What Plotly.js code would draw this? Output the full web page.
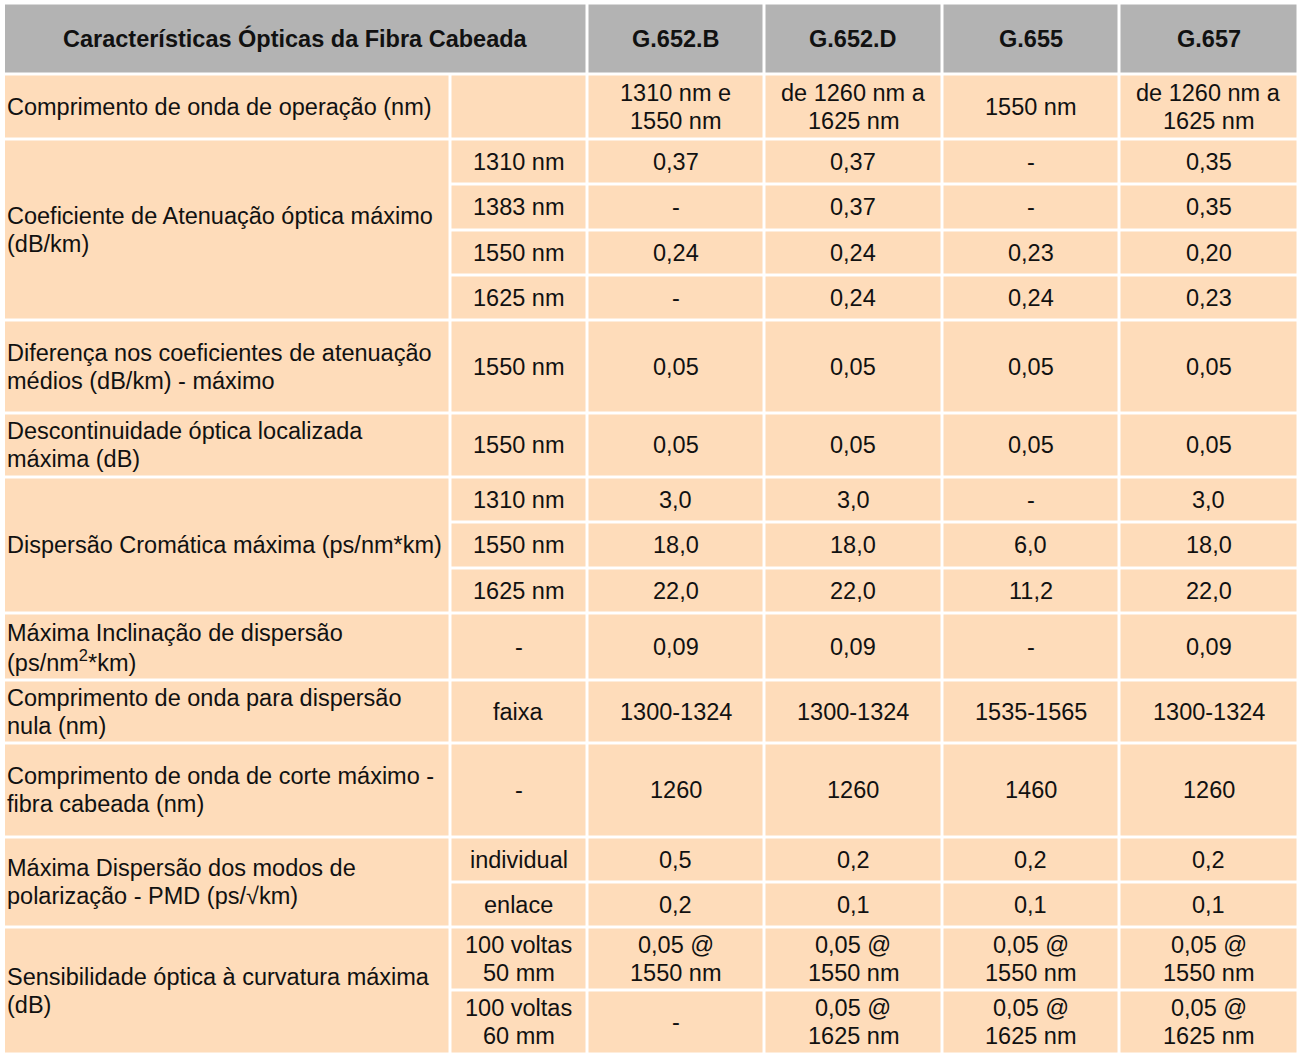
<!DOCTYPE html>
<html>
<head>
<meta charset="utf-8">
<script src="https://cdn.plot.ly/plotly-3.0.1.min.js"></script>
<style>
  html, body { margin: 0; padding: 0; background: #ffffff; }
  #tabela { width: 1300px; height: 1055px; }
</style>
</head>
<body>
<div id="tabela"></div>
<script>
// Table content
const cabecalho = ['Características Ópticas da Fibra Cabeada', 'G.652.B', 'G.652.D', 'G.655', 'G.657'];

const parametros = [
    'Comprimento de onda de operação (nm)',
    'Coeficiente de Atenuação óptica máximo<br>(dB/km)',
    'Diferença nos coeficientes de atenuação<br>médios (dB/km) - máximo',
    'Descontinuidade óptica localizada<br>máxima (dB)',
    'Dispersão Cromática máxima (ps/nm*km)',
    'Máxima Inclinação de dispersão<br>(ps/nm<sup>2</sup>*km)',
    'Comprimento de onda para dispersão<br>nula (nm)',
    'Comprimento de onda de corte máximo -<br>fibra cabeada (nm)',
    'Máxima Dispersão dos modos de<br>polarização - PMD (ps/√km)',
    'Sensibilidade óptica à curvatura máxima<br>(dB)'
];

const condicoes = [
    [''],
    ['1310 nm', '1383 nm', '1550 nm', '1625 nm'],
    ['1550 nm'],
    ['1550 nm'],
    ['1310 nm', '1550 nm', '1625 nm'],
    ['-'],
    ['faixa'],
    ['-'],
    ['individual', 'enlace'],
    ['100 voltas<br>50 mm', '100 voltas<br>60 mm']
];

const g652b = ['1310 nm e<br>1550 nm', '0,37', '-', '0,24', '-', '0,05', '0,05', '3,0', '18,0', '22,0',
    '0,09', '1300-1324', '1260', '0,5', '0,2', '0,05 @<br>1550 nm', '-'];
const g652d = ['de 1260 nm a<br>1625 nm', '0,37', '0,37', '0,24', '0,24', '0,05', '0,05', '3,0', '18,0', '22,0',
    '0,09', '1300-1324', '1260', '0,2', '0,1', '0,05 @<br>1550 nm', '0,05 @<br>1625 nm'];
const g655 = ['1550 nm', '-', '-', '0,23', '0,24', '0,05', '0,05', '-', '6,0', '11,2',
    '-', '1535-1565', '1460', '0,2', '0,1', '0,05 @<br>1550 nm', '0,05 @<br>1625 nm'];
const g657 = ['de 1260 nm a<br>1625 nm', '0,35', '0,35', '0,20', '0,23', '0,05', '0,05', '3,0', '18,0', '22,0',
    '0,09', '1300-1324', '1260', '0,2', '0,1', '0,05 @<br>1550 nm', '0,05 @<br>1625 nm'];

// Geometry (pixels) - column edges and row heights
const colEdges = [3.5, 450, 587, 764, 942, 1119, 1298];
const headerTop = 3;
const headerHeight = 71;
const rowHeights = [65, 45, 46, 45, 45, 93, 64, 45, 46, 45, 67, 63, 94, 45, 45, 63, 64];
const gap = 1.5;
const lineStep = 28;

const corCabecalho = '#b3b3b3';
const corCelula = '#fedcba';
const fonte = '"Liberation Sans", Arial, sans-serif';

const shapes = [];
const annotations = [];

function cell(x0, x1, y0, y1, color) {
    shapes.push({
        type: 'rect', xref: 'x', yref: 'y',
        x0: x0 + gap, x1: x1 - gap, y0: y0 + gap, y1: y1 - gap,
        fillcolor: color, line: {width: 0}, layer: 'below'
    });
}

function label(text, x, yc, align, bold) {
    if (!text) return;
    const lines = text.split('<br>');
    lines.forEach((ln, i) => {
        annotations.push({
            xref: 'x', yref: 'y',
            x: x, y: yc + (i - (lines.length - 1) / 2) * lineStep,
            text: bold ? '<b>' + ln + '</b>' : ln,
            showarrow: false,
            xanchor: align, yanchor: 'middle',
            font: {family: fonte, size: 23.5, color: '#111111'}
        });
    });
}

// Header
const hTop = headerTop, hBot = headerTop + headerHeight;
cell(colEdges[0], colEdges[2], hTop, hBot, corCabecalho);
label(cabecalho[0], (colEdges[0] + colEdges[2]) / 2, (hTop + hBot) / 2, 'center', true);
for (let c = 1; c < cabecalho.length; c++) {
    cell(colEdges[c + 1], colEdges[c + 2], hTop, hBot, corCabecalho);
    label(cabecalho[c], (colEdges[c + 1] + colEdges[c + 2]) / 2, (hTop + hBot) / 2, 'center', true);
}

// Body
const series = [g652b, g652d, g655, g657];
let y = hBot;
let k = 0;
parametros.forEach((p, g) => {
    const gTop = y;
    condicoes[g].forEach(cond => {
        const h = rowHeights[k];
        const yc = y + h / 2;
        cell(colEdges[1], colEdges[2], y, y + h, corCelula);
        label(cond, (colEdges[1] + colEdges[2]) / 2, yc, 'center', false);
        series.forEach((s, j) => {
            cell(colEdges[j + 2], colEdges[j + 3], y, y + h, corCelula);
            label(s[k], (colEdges[j + 2] + colEdges[j + 3]) / 2, yc, 'center', false);
        });
        y += h;
        k++;
    });
    cell(colEdges[0], colEdges[1], gTop, y, corCelula);
    label(p, colEdges[0] + 1, (gTop + y) / 2, 'left', false);
});

Plotly.newPlot('tabela', [], {
    width: 1300,
    height: 1055,
    margin: {l: 0, r: 0, t: 0, b: 0},
    paper_bgcolor: '#ffffff',
    plot_bgcolor: '#ffffff',
    xaxis: {range: [0, 1300], visible: false, fixedrange: true},
    yaxis: {range: [1055, 0], visible: false, fixedrange: true},
    showlegend: false,
    shapes: shapes,
    annotations: annotations
}, {displayModeBar: false, staticPlot: true});
</script>
</body>
</html>
